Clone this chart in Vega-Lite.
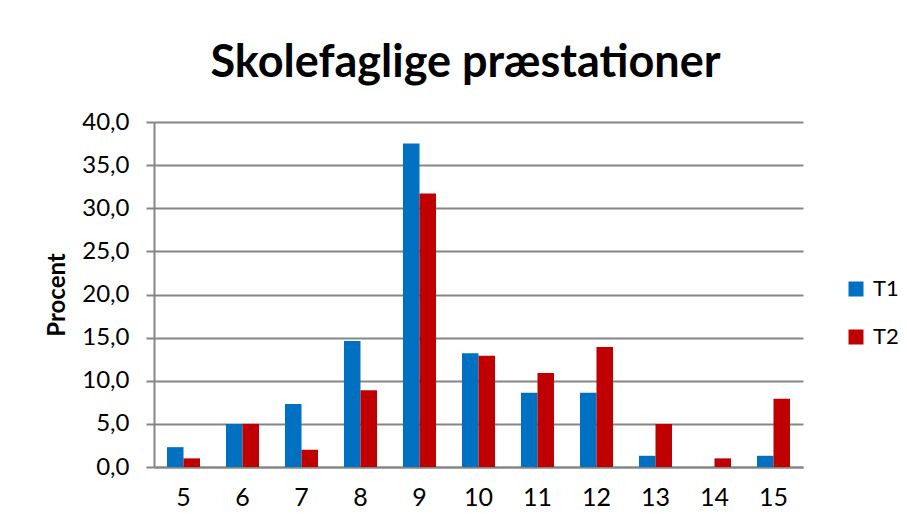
{
  "$schema": "https://vega.github.io/schema/vega-lite/v6.json",
  "autosize": {"type": "none"},
  "width": 649,
  "height": 345,
  "padding": {"left": 154, "top": 122, "right": 104, "bottom": 58},
  "background": "white",
  "title": {
    "text": "Skolefaglige præstationer",
    "font": "Lato",
    "fontSize": 45,
    "fontWeight": "bold",
    "color": "#000000",
    "anchor": "middle",
    "frame": "group",
    "baseline": "alphabetic",
    "dx": -13,
    "dy": 46,
    "offset": 34
  },
  "data": {
    "values": [
      {"karakter": "5", "serie": "T1", "procent": 2.3},
      {"karakter": "5", "serie": "T2", "procent": 1.0},
      {"karakter": "6", "serie": "T1", "procent": 5.0},
      {"karakter": "6", "serie": "T2", "procent": 5.0},
      {"karakter": "7", "serie": "T1", "procent": 7.3},
      {"karakter": "7", "serie": "T2", "procent": 2.0},
      {"karakter": "8", "serie": "T1", "procent": 14.6},
      {"karakter": "8", "serie": "T2", "procent": 8.9},
      {"karakter": "9", "serie": "T1", "procent": 37.5},
      {"karakter": "9", "serie": "T2", "procent": 31.7},
      {"karakter": "10", "serie": "T1", "procent": 13.2},
      {"karakter": "10", "serie": "T2", "procent": 12.9},
      {"karakter": "11", "serie": "T1", "procent": 8.6},
      {"karakter": "11", "serie": "T2", "procent": 10.9},
      {"karakter": "12", "serie": "T1", "procent": 8.6},
      {"karakter": "12", "serie": "T2", "procent": 13.9},
      {"karakter": "13", "serie": "T1", "procent": 1.3},
      {"karakter": "13", "serie": "T2", "procent": 5.0},
      {"karakter": "14", "serie": "T1", "procent": 0.0},
      {"karakter": "14", "serie": "T2", "procent": 1.0},
      {"karakter": "15", "serie": "T1", "procent": 1.3},
      {"karakter": "15", "serie": "T2", "procent": 7.9}
    ]
  },
  "mark": {"type": "bar"},
  "encoding": {
    "x": {
      "field": "karakter",
      "type": "ordinal",
      "sort": ["5", "6", "7", "8", "9", "10", "11", "12", "13", "14", "15"],
      "scale": {"paddingInner": 0.44, "paddingOuter": 0.22},
      "axis": {
        "title": null,
        "labelAngle": 0,
        "labelFont": "Lato",
        "labelFontSize": 25,
        "labelColor": "#000000",
        "labelPadding": 18,
        "ticks": false,
        "domainColor": "#868686",
        "domainWidth": 2
      }
    },
    "xOffset": {"field": "serie", "type": "nominal", "scale": {"paddingInner": 0}},
    "y": {
      "field": "procent",
      "type": "quantitative",
      "scale": {"domain": [0, 40], "nice": false},
      "axis": {
        "title": "Procent",
        "titleFont": "Lato",
        "titleFontSize": 24,
        "titleFontWeight": "bold",
        "titleColor": "#000000",
        "titlePadding": 12,
        "values": [0, 5, 10, 15, 20, 25, 30, 35, 40],
        "labelExpr": "replace(format(datum.value, '.1f'), '.', ',')",
        "labelFont": "Lato",
        "labelFontSize": 24,
        "labelColor": "#000000",
        "labelPadding": 17,
        "tickSize": 8,
        "tickColor": "#868686",
        "tickWidth": 2,
        "domainColor": "#868686",
        "domainWidth": 2,
        "gridColor": "#868686",
        "gridWidth": 2
      }
    },
    "color": {
      "field": "serie",
      "type": "nominal",
      "scale": {"domain": ["T1", "T2"], "range": ["#0070C0", "#C00000"]},
      "legend": {
        "title": null,
        "orient": "none",
        "legendX": 691,
        "legendY": 156,
        "symbolType": "square",
        "symbolSize": 225,
        "symbolStrokeWidth": 0,
        "symbolOpacity": 1,
        "labelFont": "Lato",
        "labelFontSize": 22,
        "labelColor": "#000000",
        "labelOffset": 6,
        "rowPadding": 26
      }
    }
  },
  "config": {
    "view": {"stroke": null}
  }
}
